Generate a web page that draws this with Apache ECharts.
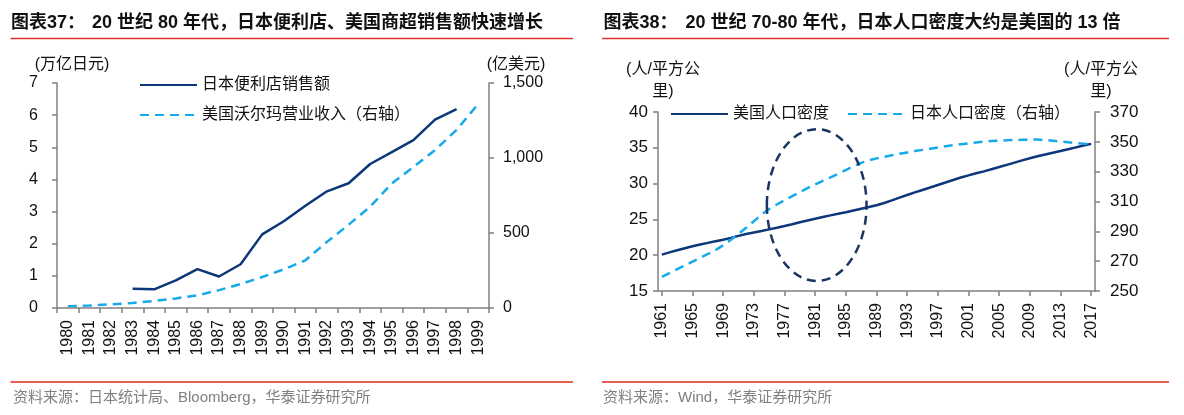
<!DOCTYPE html>
<html>
<head>
<meta charset="utf-8">
<script src="https://cdn.jsdelivr.net/npm/echarts@6/dist/echarts.min.js"></script>
<style>
html,body{margin:0;padding:0;background:#fff;}
#c{width:1184px;height:415px;}
</style>
</head>
<body>
<div id="c"></div>
<script>
// ---------- Data: chart 37 ----------
var years37 = ['1980','1981','1982','1983','1984','1985','1986','1987','1988','1989','1990','1991','1992','1993','1994','1995','1996','1997','1998','1999'];
var jpStoreSales = [null,null,null,0.60,0.58,0.86,1.21,0.98,1.36,2.29,2.70,3.18,3.63,3.88,4.48,4.85,5.22,5.86,6.19,null];
var walmartRevenue = [12.5,16.4,24.4,33.8,46.7,64.0,84.5,119.1,159.6,206.5,258.1,318.0,441.0,555.0,676.0,830.0,940.0,1052.0,1188.0,1360.0];
var leftTicks37 = [0,1,2,3,4,5,6,7];
var rightTicks37 = [0,500,1000,1500];

// ---------- Data: chart 38 ----------
var years38 = [];
for (var yy = 1961; yy <= 2017; yy++) years38.push(String(yy));
var usDensity = [20.08,20.39,20.69,20.98,21.24,21.49,21.72,21.94,22.16,22.42,22.70,22.95,23.17,23.38,23.61,23.84,24.08,24.33,24.60,24.84,25.09,25.33,25.56,25.78,26.01,26.25,26.49,26.73,26.98,27.29,27.66,28.04,28.41,28.77,29.11,29.45,29.81,30.16,30.50,30.85,31.15,31.44,31.71,32.01,32.31,32.62,32.93,33.24,33.54,33.82,34.06,34.31,34.55,34.81,35.06,35.32,35.55];
var jpDensity = [259.4,262.0,264.6,267.1,269.7,272.2,274.8,277.4,280.6,284.3,288.3,292.4,296.8,301.2,305.0,308.0,310.8,313.6,316.3,319.0,321.5,323.9,326.2,328.6,331.1,333.6,335.9,337.6,338.9,340.0,341.0,342.0,342.9,343.8,344.6,345.4,346.2,347.0,347.7,348.4,349.0,349.6,350.1,350.5,350.8,351.0,351.2,351.4,351.5,351.5,351.2,350.8,350.2,349.7,349.2,348.8,348.3];
var leftTicks38 = [15,20,25,30,35,40];
var rightTicks38 = [250,270,290,310,330,350,370];

// ---------- Texts ----------
var title37Prefix = '图表37：';
var title37 = '20 世纪 80 年代，日本便利店、美国商超销售额快速增长';
var title38Prefix = '图表38：';
var title38 = '20 世纪 70-80 年代，日本人口密度大约是美国的 13 倍';
var source37 = '资料来源：日本统计局、Bloomberg，华泰证券研究所';
var source38 = '资料来源：Wind，华泰证券研究所';
var unit37L = '(万亿日元)';
var unit37R = '(亿美元)';
var unit38 = '(人/平方公\n里)';
var names37 = ['日本便利店销售额', '美国沃尔玛营业收入（右轴）'];
var names38 = ['美国人口密度', '日本人口密度（右轴）'];

// ---------- Style ----------
var FONT = "'Liberation Sans', 'Noto Sans CJK SC', sans-serif";
var NAVY = '#0c3778';
var SKY = '#16aaea';
var AXIS = '#808080';
var TXT = '#111111';

function fmtThousands(v){ return Number(v).toLocaleString('en-US'); }

function axisCommon(extra){
  var base = {
    axisLine: {show: true, onZero: false, lineStyle: {color: AXIS, width: 1.5}},
    axisTick: {show: true, inside: false, length: 5, lineStyle: {color: AXIS, width: 1.5}},
    splitLine: {show: false},
    axisLabel: {color: TXT, fontFamily: FONT, fontSize: 16}
  };
  for (var k in extra) {
    if (typeof extra[k] === 'object' && base[k] && !Array.isArray(extra[k])) {
      for (var j in extra[k]) base[k][j] = extra[k][j];
    } else base[k] = extra[k];
  }
  return base;
}

var chart = echarts.init(document.getElementById('c'), null, {renderer: 'canvas'});

var legendCommon = {
  itemWidth: 57, itemHeight: 14,
  itemStyle: {opacity: 0, borderWidth: 0},
  textStyle: {fontFamily: FONT, fontSize: 16, color: TXT},
  selectedMode: false
};
function legendOf(extra){
  var o = {};
  for (var k in legendCommon) o[k] = legendCommon[k];
  for (var j in extra) o[j] = extra[j];
  return o;
}

var option = {
  animation: false,
  backgroundColor: '#ffffff',
  textStyle: {fontFamily: FONT},
  grid: [
    {left: 57, top: 83, width: 432, height: 225, containLabel: false},
    {left: 658, top: 112, width: 437, height: 179, containLabel: false}
  ],
  xAxis: [
    axisCommon({gridIndex: 0, type: 'category', data: years37, boundaryGap: true,
      axisTick: {alignWithLabel: false, interval: 0},
      axisLabel: {rotate: 90, interval: 0, margin: 12}}),
    axisCommon({gridIndex: 1, type: 'category', data: years38, boundaryGap: true,
      axisTick: {alignWithLabel: true, interval: 3},
      axisLabel: {rotate: 90, interval: 3, margin: 12, fontSize: 16}})
  ],
  yAxis: [
    axisCommon({gridIndex: 0, type: 'value', position: 'left', min: leftTicks37[0], max: leftTicks37[leftTicks37.length-1], interval: 1,
      axisLabel: {margin: 19}}),
    axisCommon({gridIndex: 0, type: 'value', position: 'right', min: rightTicks37[0], max: rightTicks37[rightTicks37.length-1], interval: 500,
      axisLabel: {margin: 14, formatter: fmtThousands}}),
    axisCommon({gridIndex: 1, type: 'value', position: 'left', min: leftTicks38[0], max: leftTicks38[leftTicks38.length-1], interval: 5,
      axisLabel: {margin: 10, fontSize: 17}}),
    axisCommon({gridIndex: 1, type: 'value', position: 'right', min: rightTicks38[0], max: rightTicks38[rightTicks38.length-1],
      axisTick: {customValues: rightTicks38},
      axisLabel: {margin: 15, fontSize: 17, customValues: rightTicks38}})
  ],
  legend: [
    legendOf({data: names37, orient: 'vertical', left: 134, top: 72, itemGap: 14}),
    legendOf({data: names38, orient: 'horizontal', left: 665, top: 101, itemGap: 18})
  ],
  series: [
    {name: names37[0], type: 'line', xAxisIndex: 0, yAxisIndex: 0, data: jpStoreSales, symbol: 'none', connectNulls: false,
      lineStyle: {color: NAVY, width: 2.5}, itemStyle: {color: NAVY}},
    {name: names37[1], type: 'line', xAxisIndex: 0, yAxisIndex: 1, data: walmartRevenue, symbol: 'none',
      lineStyle: {color: SKY, width: 2.5, type: [9, 6]}, itemStyle: {color: SKY}},
    {name: names38[0], type: 'line', xAxisIndex: 1, yAxisIndex: 2, data: usDensity, symbol: 'none',
      lineStyle: {color: NAVY, width: 2.5}, itemStyle: {color: NAVY}},
    {name: names38[1], type: 'line', xAxisIndex: 1, yAxisIndex: 3, data: jpDensity, symbol: 'none',
      lineStyle: {color: SKY, width: 2.5, type: [9, 6]}, itemStyle: {color: SKY}}
  ]
};
chart.setOption(option);

// ---------- Annotation ellipse (positioned through axes) ----------
var ELL_CENTER_YEAR = '1981', ELL_CENTER_SHIFT = 0.2, ELL_HALF_YEARS = 6.5;
var ELL_CENTER_VAL = 27.0, ELL_TOP_VAL = 37.6;
var px0 = chart.convertToPixel({xAxisIndex: 1}, years38[0]);
var px1 = chart.convertToPixel({xAxisIndex: 1}, years38[1]);
var step = px1 - px0;
var ecx = chart.convertToPixel({xAxisIndex: 1}, ELL_CENTER_YEAR) + ELL_CENTER_SHIFT * step;
var ecy = chart.convertToPixel({yAxisIndex: 2}, ELL_CENTER_VAL);
var etop = chart.convertToPixel({yAxisIndex: 2}, ELL_TOP_VAL);

function txt(x, y, text, size, opts){
  opts = opts || {};
  return {type: 'text', x: x, y: y, silent: true, z: 100,
    style: {text: text, fill: opts.fill || TXT, font: (opts.weight || 'normal') + ' ' + size + 'px ' + FONT,
      align: opts.align || 'left', verticalAlign: 'middle', lineHeight: opts.lineHeight || size}};
}
function hline(x1, x2, y, color, w){
  return {type: 'line', silent: true, shape: {x1: x1, y1: y, x2: x2, y2: y}, style: {stroke: color, lineWidth: w}};
}

chart.setOption({
  graphic: [
    txt(11, 23, title37Prefix, 18, {weight: 'bold'}),
    txt(92, 23, title37, 18, {weight: 'bold'}),
    txt(603.5, 23, title38Prefix, 18, {weight: 'bold'}),
    txt(685.5, 23, title38, 18, {weight: 'bold'}),
    hline(10.5, 573, 38.5, '#e0342a', 1.5),
    hline(602, 1169, 38.5, '#e0342a', 1.5),
    hline(10.5, 573, 382, '#e6604f', 2),
    hline(602, 1169, 382, '#e6604f', 2),
    txt(13, 398, source37, 15, {fill: '#808080'}),
    txt(603, 398, source38, 15, {fill: '#808080'}),
    txt(72, 65, unit37L, 16, {align: 'center'}),
    txt(516, 65, unit37R, 16, {align: 'center'}),
    txt(663, 81, unit38, 16, {align: 'center', lineHeight: 22}),
    txt(1101, 81, unit38, 16, {align: 'center', lineHeight: 22}),
    {type: 'ellipse', silent: true, z: 50,
      shape: {cx: ecx, cy: ecy, rx: ELL_HALF_YEARS * step, ry: ecy - etop},
      style: {fill: 'none', stroke: '#1b3563', lineWidth: 2.5, lineDash: [9, 6]}}
  ]
});
</script>
</body>
</html>
